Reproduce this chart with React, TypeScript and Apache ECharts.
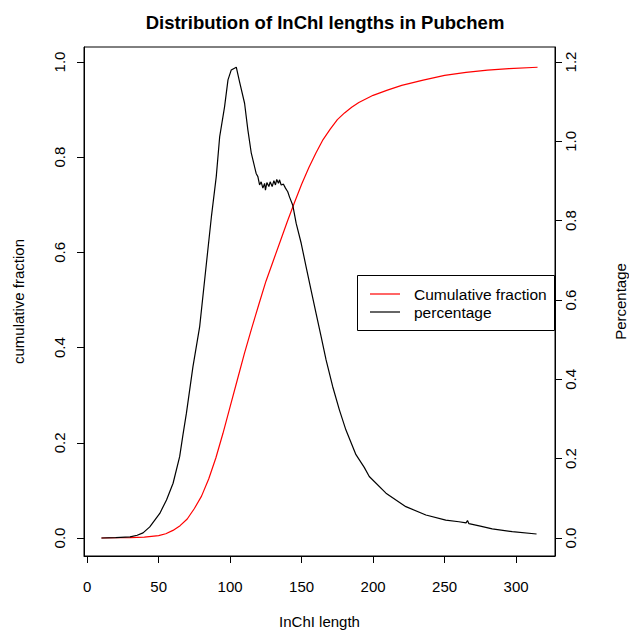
import React, { useEffect, useRef } from "react";
import * as echarts from "echarts";

// Cumulative fraction (left axis)
const cumX = [10, 20, 30, 40, 50, 55, 60, 65, 70, 75, 80, 85, 90, 95, 100, 105, 110, 115, 120, 125, 130, 135, 140, 145, 150, 155, 160, 165, 170, 175, 180, 185, 190, 200, 210, 220, 235, 250, 265, 280, 295, 315];
const cumY = [0, 0.0005, 0.001, 0.002, 0.005, 0.009, 0.016, 0.026, 0.04, 0.062, 0.088, 0.124, 0.168, 0.22, 0.276, 0.332, 0.388, 0.44, 0.49, 0.539, 0.581, 0.623, 0.665, 0.705, 0.743, 0.778, 0.809, 0.837, 0.859, 0.879, 0.893, 0.905, 0.915, 0.93, 0.941, 0.951, 0.962, 0.972, 0.978, 0.983, 0.986, 0.989];

// Percentage (right axis)
const pctX = [10, 20, 30, 35, 39.1, 43.8, 50.8, 55.5, 60.1, 64.7, 67, 69.4, 74, 78.7, 83.4, 86.9, 90.3, 92.7, 96.1, 98.5, 100.8, 104.3, 106.6, 110.1, 112.4, 114.8, 118.2, 119.4, 120.6, 121.7, 122.9, 124.1, 124.7, 125.7, 127.1, 128, 129.4, 130.6, 131.7, 132.6, 133.8, 134.5, 135.7, 137.3, 138.7, 140.3, 141.5, 143.8, 146.2, 149.7, 153.1, 156.6, 160.1, 163.6, 167.1, 171.7, 176.4, 181, 188, 193.8, 197.3, 209, 222.9, 236.9, 250.8, 260, 265, 266, 267, 275, 283.3, 297.3, 314.3];
const pctY = [0, 0.001, 0.003, 0.007, 0.013, 0.028, 0.062, 0.096, 0.138, 0.205, 0.26, 0.314, 0.432, 0.533, 0.692, 0.81, 0.911, 1.012, 1.087, 1.155, 1.18, 1.187, 1.15, 1.096, 1.029, 0.97, 0.919, 0.911, 0.89, 0.898, 0.882, 0.894, 0.877, 0.896, 0.886, 0.898, 0.886, 0.901, 0.89, 0.904, 0.894, 0.903, 0.89, 0.892, 0.882, 0.873, 0.86, 0.839, 0.793, 0.743, 0.684, 0.625, 0.566, 0.508, 0.449, 0.382, 0.323, 0.272, 0.21, 0.178, 0.155, 0.113, 0.079, 0.058, 0.045, 0.041, 0.038, 0.044, 0.036, 0.03, 0.023, 0.016, 0.01];

const xTicks = [0, 50, 100, 150, 200, 250, 300];
const leftTicks = [0, 0.2, 0.4, 0.6, 0.8, 1.0];
const rightTicks = [0, 0.2, 0.4, 0.6, 0.8, 1.0, 1.2];
const legendNames = ["Cumulative fraction", "percentage"];
const legendColors = ["red", "#000"];

const FONT = "Liberation Sans, Arial, sans-serif";

export default function App() {
  const ref = useRef<HTMLDivElement>(null);
  useEffect(() => {
    if (!ref.current) return;
    const chart = echarts.init(ref.current, null, { renderer: "svg" });
    const axisCommon = {
      axisLine: { show: true, onZero: false, lineStyle: { color: "#000", width: 1 } },
      axisTick: { show: true, length: 7, inside: false, lineStyle: { color: "#000" } },
      splitLine: { show: false },
    };
    const legendGraphics: any[] = [
      {
        type: "rect",
        shape: { x: 357.5, y: 275.5, width: 197, height: 55 },
        style: { fill: "#fff", stroke: "#000", lineWidth: 1 },
        z: 100,
      },
    ];
    legendNames.forEach((n, i) => {
      const y = 294 + i * 18;
      legendGraphics.push({
        type: "line",
        shape: { x1: 370, y1: y, x2: 400, y2: y },
        style: { stroke: legendColors[i], lineWidth: 1.2 },
        z: 101,
      });
      legendGraphics.push({
        type: "text",
        x: 414,
        y,
        style: { text: n, fontFamily: FONT, fontSize: 15.5, fill: "#000", textVerticalAlign: "middle", verticalAlign: "middle" },
        z: 101,
      });
    });
    chart.setOption({
      animation: false,
      backgroundColor: "#fff",
      textStyle: { fontFamily: FONT },
      title: {
        text: "Distribution of InChI lengths in Pubchem",
        left: 320,
        textAlign: "center",
        top: 8,
        textStyle: { fontFamily: FONT, fontSize: 18.5, fontWeight: "bold", color: "#000" },
      },
      grid: {
        left: 84,
        right: 74,
        top: 47,
        bottom: 76,
        show: true,
        borderColor: "#000",
        borderWidth: 1,
        backgroundColor: "transparent",
        containLabel: false,
        outerBoundsMode: "none",
      },
      graphic: legendGraphics,
      xAxis: {
        type: "value",
        min: -2.2,
        max: 327.2,
        ...axisCommon,
        axisTick: { ...axisCommon.axisTick, customValues: xTicks },
        axisLabel: {
          customValues: xTicks,
          fontFamily: FONT,
          fontSize: 15,
          color: "#000",
          margin: 23,
        },
        name: "InChI length",
        nameLocation: "middle",
        nameGap: 58,
        nameTextStyle: { fontFamily: FONT, fontSize: 15, color: "#000" },
      },
      yAxis: [
        {
          type: "value",
          position: "left",
          min: -0.0378,
          max: 1.0315,
          ...axisCommon,
          axisTick: { ...axisCommon.axisTick, customValues: leftTicks },
          axisLabel: {
            customValues: leftTicks,
            rotate: 90,
            fontFamily: FONT,
            fontSize: 15,
            color: "#000",
            margin: 17,
            formatter: (v: number) => v.toFixed(1),
          },
          name: "cumulative fraction",
          nameLocation: "middle",
          nameRotate: 90,
          nameGap: 58,
          nameTextStyle: { fontFamily: FONT, fontSize: 15, color: "#000" },
        },
        {
          type: "value",
          position: "right",
          min: -0.0454,
          max: 1.2378,
          ...axisCommon,
          axisTick: { ...axisCommon.axisTick, customValues: rightTicks },
          axisLabel: {
            customValues: rightTicks,
            rotate: 90,
            fontFamily: FONT,
            fontSize: 15,
            color: "#000",
            margin: 8,
            formatter: (v: number) => v.toFixed(1),
          },
          name: "Percentage",
          nameLocation: "middle",
          nameRotate: 90,
          nameGap: 58,
          nameTextStyle: { fontFamily: FONT, fontSize: 15, color: "#000" },
        },
      ],
      series: [
        {
          name: "Cumulative fraction",
          type: "line",
          yAxisIndex: 0,
          data: cumX.map((x, i) => [x, cumY[i]]),
          symbol: "none",
          lineStyle: { color: "red", width: 1.2 },
          itemStyle: { color: "red" },
          z: 2,
        },
        {
          name: "percentage",
          type: "line",
          yAxisIndex: 1,
          data: pctX.map((x, i) => [x, pctY[i]]),
          symbol: "none",
          lineStyle: { color: "#000", width: 1.2 },
          itemStyle: { color: "#000" },
          z: 3,
        },
      ],
    });
    return () => chart.dispose();
  }, []);
  return <div ref={ref} style={{ width: 629, height: 632, position: "absolute", left: 0, top: 0 }} />;
}
